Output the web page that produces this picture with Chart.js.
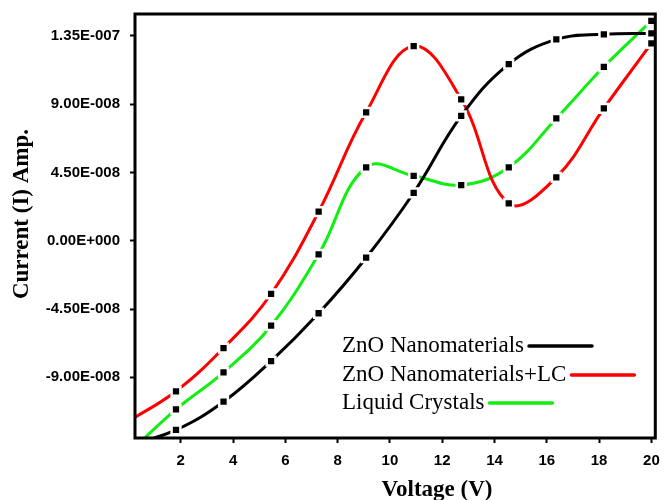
<!DOCTYPE html>
<html>
<head>
<meta charset="utf-8">
<script src="https://cdn.jsdelivr.net/npm/chart.js@4/dist/chart.umd.min.js"></script>
<style>
  body { margin: 0; background: #fff; }
  #wrap { width: 664px; height: 500px; }
</style>
</head>
<body>
<div id="wrap"><canvas id="ivChart"></canvas></div>
<script>
// -------- DATA --------
const voltage = [0, 1.818, 3.636, 5.455, 7.273, 9.091, 10.909, 12.727, 14.545, 16.364, 18.182, 20];

const znoCurrent   = [-1.35e-7, -1.247e-7, -1.061e-7, -7.93e-8, -4.78e-8, -1.12e-8, 3.16e-8, 8.22e-8, 1.164e-7, 1.327e-7, 1.36e-7, 1.366e-7];
const znoLcCurrent = [-1.19e-7, -9.92e-8, -7.07e-8, -3.51e-8, 1.91e-8, 8.46e-8, 1.283e-7, 9.32e-8, 2.46e-8, 4.18e-8, 8.72e-8, 1.30e-7];
const lcCurrent    = [-1.40e-7, -1.111e-7, -8.67e-8, -5.60e-8, -9.0e-9, 4.84e-8, 4.28e-8, 3.67e-8, 4.84e-8, 8.06e-8, 1.146e-7, 1.449e-7];

const seriesNames = ["ZnO Nanomaterials", "ZnO Nanomaterials+LC", "Liquid Crystals"];

const xTickValues = [2, 4, 6, 8, 10, 12, 14, 16, 18, 20];
const yTickValues = [-9e-8, -4.5e-8, 0, 4.5e-8, 9e-8, 1.35e-7];
const yTickLabels = ["-9.00E-008", "-4.50E-008", "0.00E+000", "4.50E-008", "9.00E-008", "1.35E-007"];

const xTitle = "Voltage (V)";
const yTitle = "Current (I) Amp.";

// -------- HELPERS --------
const toPoints = ys => voltage.map((v, i) => ({ x: v, y: ys[i] }));

function lineSet(label, data, color) {
    return {
        label: label,
        data: toPoints(data),
        borderColor: color,
        borderWidth: 3,
        tension: 0.4,
        fill: false,
        pointStyle: "rect",
        pointRadius: 6.2,
        pointBorderWidth: 2.5,
        pointBackgroundColor: "#000",
        pointBorderColor: "#fff",
        clip: { left: 0, top: 8, right: 6, bottom: 0 }
    };
}

// no extra room for overhanging tick labels, the layout padding sets the box
function noPad(s) {
    s.paddingTop = 0;
    s.paddingBottom = 0;
    s.paddingLeft = 0;
    s.paddingRight = 0;
}

// frame, axis titles and the in-plot legend
const decor = {
    id: "decor",
    afterDatasetsDraw(chart) {
        const { ctx, chartArea: a } = chart;
        ctx.save();

        ctx.strokeStyle = "#000";
        ctx.lineWidth = 3;
        ctx.strokeRect(a.left, a.top, a.right - a.left, a.bottom - a.top);

        ctx.fillStyle = "#000";
        ctx.font = "bold 23px 'Liberation Serif'";
        ctx.textAlign = "center";
        ctx.textBaseline = "middle";
        ctx.fillText(xTitle, 437, 490);

        ctx.save();
        ctx.translate(22, 214);
        ctx.rotate(-Math.PI / 2);
        ctx.fillText(yTitle, 0, 0);
        ctx.restore();

        // legend: text first, line sample after it
        ctx.font = "23px 'Liberation Serif'";
        ctx.textAlign = "left";
        const rows = [346, 375, 403];
        chart.data.datasets.forEach((ds, i) => {
            const y = rows[i];
            ctx.fillStyle = "#000";
            ctx.fillText(ds.label, 342, y);
            const w = ctx.measureText(ds.label).width;
            ctx.strokeStyle = ds.borderColor;
            ctx.lineWidth = 3.5;
            ctx.lineCap = "round";
            ctx.beginPath();
            ctx.moveTo(342 + w + 5, y);
            ctx.lineTo(342 + w + 68, y);
            ctx.stroke();
        });

        ctx.restore();
    }
};

// -------- CHART --------
const ctx = document.getElementById("ivChart").getContext("2d");

const ivChart = new Chart(ctx, {
    type: "line",
    data: {
        datasets: [
            lineSet(seriesNames[0], znoCurrent, "#000000"),
            lineSet(seriesNames[1], znoLcCurrent, "#ff0000"),
            lineSet(seriesNames[2], lcCurrent, "#11ee11")
        ]
    },
    options: {
        responsive: true,
        maintainAspectRatio: false,
        animation: false,
        events: [],
        layout: { padding: { left: 0, top: 14, right: 8, bottom: 0 } },
        plugins: {
            legend: { display: false },
            tooltip: { enabled: false }
        },
        scales: {
            x: {
                type: "linear",
                min: 0.25,
                max: 20.15,
                afterBuildTicks: s => { s.ticks = xTickValues.map(v => ({ value: v })); },
                afterFit: s => { s.height = 62; noPad(s); },
                border: { display: false },
                grid: {
                    drawOnChartArea: false,
                    drawTicks: true,
                    tickLength: 5,
                    tickWidth: 2,
                    tickColor: "#000"
                },
                ticks: {
                    color: "#000",
                    padding: 9,
                    maxRotation: 0,
                    font: { family: "'Liberation Sans'", size: 15, weight: "bold" },
                    callback: v => String(v)
                }
            },
            y: {
                type: "linear",
                min: -1.30e-7,
                max: 1.494e-7,
                afterBuildTicks: s => { s.ticks = yTickValues.map(v => ({ value: v })); },
                afterFit: s => { s.width = 135; noPad(s); },
                border: { display: false },
                grid: {
                    drawOnChartArea: false,
                    drawTicks: true,
                    tickLength: 5,
                    tickWidth: 2,
                    tickColor: "#000"
                },
                ticks: {
                    color: "#000",
                    padding: 10,
                    font: { family: "'Liberation Sans'", size: 15, weight: "bold" },
                    callback: v => {
                        const i = yTickValues.findIndex(t => Math.abs(t - v) < 1e-12);
                        return i >= 0 ? yTickLabels[i] : "";
                    }
                }
            }
        }
    },
    plugins: [decor]
});
</script>
</body>
</html>
